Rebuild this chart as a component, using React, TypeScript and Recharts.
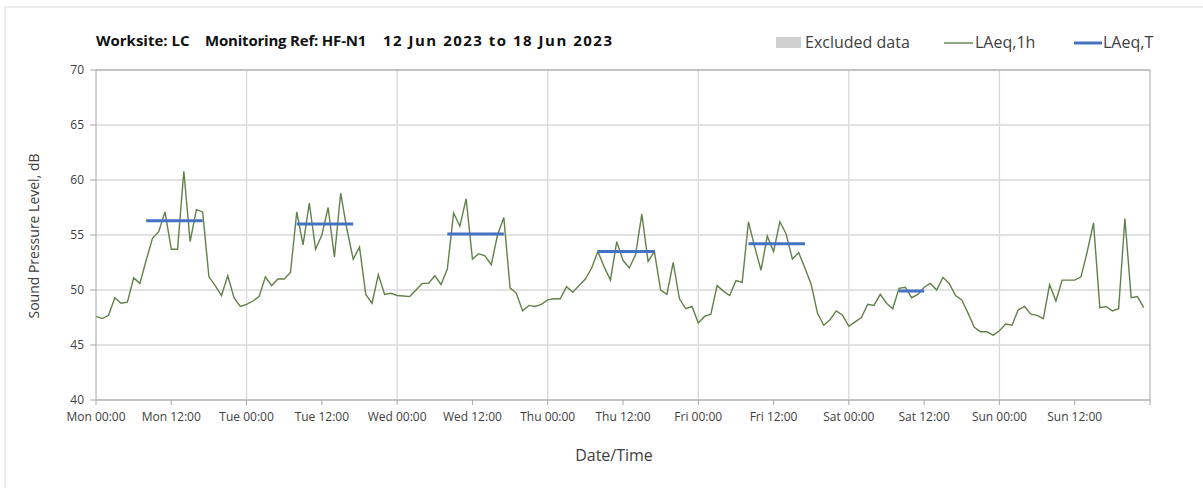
import React from 'react';
import { LineChart, Line, XAxis, YAxis, CartesianGrid, ReferenceLine } from 'recharts';

// Hourly LAeq,1h values, Mon 00:00 (index 0) to Sun 23:00 (index 167)
const laeqMon = [47.6, 47.4, 47.7, 49.3, 48.8, 48.9, 51.1, 50.6, 52.7, 54.7, 55.3, 57.1, 53.7, 53.7, 60.8, 54.4, 57.3, 57.1, 51.2, 50.4, 49.5, 51.3, 49.3, 48.5];
const laeqTue = [48.7, 49.0, 49.4, 51.2, 50.4, 51.0, 51.0, 51.6, 57.1, 54.1, 57.9, 53.7, 55.0, 57.5, 53.0, 58.8, 55.5, 52.8, 53.9, 49.6, 48.8, 51.4, 49.6, 49.7];
const laeqWed = [49.5, 49.45, 49.4, 50.0, 50.6, 50.6, 51.3, 50.5, 51.9, 57.0, 55.8, 58.3, 52.8, 53.3, 53.1, 52.3, 55.0, 56.6, 50.2, 49.7, 48.1, 48.6, 48.5, 48.7];
const laeqThu = [49.1, 49.2, 49.2, 50.3, 49.8, 50.4, 51.0, 52.0, 53.5, 52.1, 50.9, 54.4, 52.7, 52.0, 53.2, 56.9, 52.6, 53.5, 50.0, 49.6, 52.5, 49.2, 48.3, 48.5];
const laeqFri = [47.0, 47.6, 47.8, 50.4, 49.9, 49.5, 50.85, 50.7, 56.2, 53.9, 51.8, 54.9, 53.5, 56.2, 55.1, 52.8, 53.4, 52.0, 50.5, 47.9, 46.8, 47.3, 48.1, 47.7];
const laeqSat = [46.7, 47.1, 47.5, 48.7, 48.6, 49.6, 48.8, 48.3, 50.15, 50.25, 49.3, 49.6, 50.25, 50.6, 50.0, 51.15, 50.6, 49.5, 49.1, 47.9, 46.6, 46.2, 46.2, 45.9];
const laeqSun = [46.3, 46.9, 46.8, 48.2, 48.5, 47.8, 47.7, 47.4, 50.5, 49.0, 50.9, 50.9, 50.9, 51.2, 53.5, 56.1, 48.4, 48.5, 48.1, 48.3, 56.5, 49.3, 49.4, 48.4];

// LAeq,T periods: start hour, end hour, level
const tStart = [8, 32, 56, 80, 104, 128];
const tEnd = [17, 41, 65, 89, 113, 132];
const tLevel = [56.3, 56.0, 55.1, 53.5, 54.2, 49.9];

const dayNames = ['Mon', 'Tue', 'Wed', 'Thu', 'Fri', 'Sat', 'Sun'];
const xTicks = [0, 12, 24, 36, 48, 60, 72, 84, 96, 108, 120, 132, 144, 156, 168];
const yTicks = [40, 45, 50, 55, 60, 65, 70];
const dayLines = [24, 48, 72, 96, 120, 144];

const laeq1h = [...laeqMon, ...laeqTue, ...laeqWed, ...laeqThu, ...laeqFri, ...laeqSat, ...laeqSun];

const data = laeq1h.map((v, i) => {
  let t: number | null = null;
  tStart.forEach((s, k) => {
    if (i >= s && i <= tEnd[k]) t = tLevel[k];
  });
  return { h: i, v, t };
});

const fmtX = (v: number) => {
  if (v >= 168) return '';
  const d = dayNames[Math.floor(v / 24)];
  return `${d} ${v % 24 === 0 ? '00' : '12'}:00`;
};

const FONT = "'Open Sans', sans-serif";
const GREEN = '#62804a';
const BLUE = '#4472C4';
const AXIS = '#a6a6a6';
const GRID = '#d9d9d9';

export default function App() {
  return (
    <div style={{ position: 'absolute', left: 0, top: 0, width: 1203, height: 488, background: '#fff', fontFamily: FONT }}>
      <LineChart
        width={1203}
        height={488}
        data={data}
        margin={{ top: 70, right: 53, left: 36, bottom: 58 }}
      >
        <CartesianGrid vertical={false} stroke={GRID} strokeWidth={1.3} />
        {dayLines.map((d) => (
          <ReferenceLine key={d} x={d} stroke={GRID} strokeWidth={1.3} ifOverflow="extendDomain" />
        ))}
        <ReferenceLine y={70} stroke={AXIS} strokeWidth={1} />
        <ReferenceLine x={168} stroke={AXIS} strokeWidth={1} />
        <XAxis
          dataKey="h"
          type="number"
          domain={[0, 168]}
          ticks={xTicks}
          tickFormatter={fmtX}
          interval={0}
          height={30}
          tickSize={5}
          tickMargin={7}
          axisLine={{ stroke: AXIS }}
          tickLine={{ stroke: AXIS }}
          tick={{ fontSize: 12, fill: '#404040', fontFamily: FONT }}
        />
        <YAxis
          type="number"
          domain={[40, 70]}
          ticks={yTicks}
          interval={0}
          width={60}
          tickSize={6}
          tickMargin={6}
          axisLine={{ stroke: AXIS }}
          tickLine={{ stroke: AXIS }}
          tick={{ fontSize: 12, fill: '#404040', fontFamily: FONT }}
        />
        <Line
          type="linear"
          dataKey="v"
          stroke={GREEN}
          strokeWidth={1.4}
          dot={false}
          activeDot={false}
          isAnimationActive={false}
        />
        <Line
          type="linear"
          dataKey="t"
          stroke={BLUE}
          strokeWidth={3}
          dot={false}
          activeDot={false}
          connectNulls={false}
          isAnimationActive={false}
        />
      </LineChart>
      <svg
        width={1203}
        height={488}
        style={{ position: 'absolute', left: 0, top: 0, pointerEvents: 'none' }}
      >
        <line x1={5} y1={7} x2={1203} y2={7} stroke="#e4e4e4" strokeWidth={1.5} />
        <line x1={5} y1={7} x2={5} y2={488} stroke="#e4e4e4" strokeWidth={1.5} />
        <g fontFamily={FONT} fontWeight={700} fontSize={15} fill="#111">
          <text x={96} y={46}>Worksite: LC</text>
          <text x={205} y={46} letterSpacing={-0.2}>Monitoring Ref: HF-N1</text>
          <text x={383} y={46} letterSpacing={1.5}>12 Jun 2023 to 18 Jun 2023</text>
        </g>
        <g fontFamily={FONT} fontSize={16} fill="#404040">
          <rect x={776} y={37} width={25} height={11} fill="#d0d0d0" />
          <text x={805} y={48}>Excluded data</text>
          <line x1={944} y1={43} x2={973} y2={43} stroke={GREEN} strokeWidth={1.4} />
          <text x={975} y={48}>LAeq,1h</text>
          <line x1={1074} y1={43} x2={1102} y2={43} stroke={BLUE} strokeWidth={3} />
          <text x={1103} y={48}>LAeq,T</text>
        </g>
        <text
          x={35}
          y={236}
          transform="rotate(-90 35 236)"
          textAnchor="middle"
          dominantBaseline="middle"
          fontFamily={FONT}
          fontSize={14}
          fill="#404040"
        >
          Sound Pressure Level, dB
        </text>
        <text
          x={614}
          y={457}
          textAnchor="middle"
          dominantBaseline="middle"
          fontFamily={FONT}
          fontSize={16}
          fill="#404040"
        >
          Date/Time
        </text>
      </svg>
    </div>
  );
}
